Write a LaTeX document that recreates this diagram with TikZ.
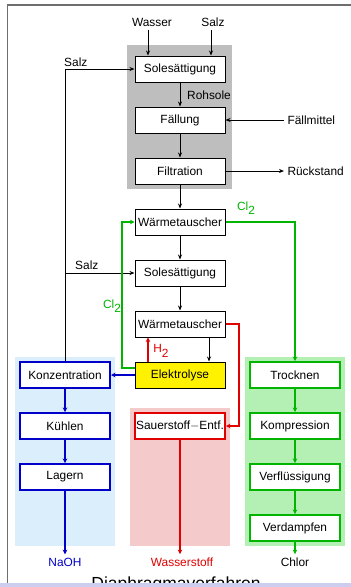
\documentclass[tikz,border=0pt]{standalone}
\usepackage{fontspec}
\setmainfont{Liberation Sans}
\usetikzlibrary{positioning,arrows.meta}

\definecolor{graybg}{RGB}{190,190,190}
\definecolor{bluebg}{RGB}{218,238,252}
\definecolor{redbg}{RGB}{245,202,202}
\definecolor{greenbg}{RGB}{180,240,180}
\definecolor{naohblue}{RGB}{0,0,200}
\definecolor{hred}{RGB}{225,0,0}
\definecolor{clgreen}{RGB}{0,180,0}
\definecolor{framegray}{RGB}{110,110,110}
\definecolor{barlav}{RGB}{205,205,240}

\begin{document}
\begin{tikzpicture}[x=1pt, y=-1pt, node distance=51pt, font=\fontsize{11.9}{13}\selectfont]
    \tikzset{
      process/.style = {rectangle, minimum width=90pt, minimum height=26pt, inner sep=0pt, text centered, draw=black, line width=1pt, fill=white},
      naohbox/.style = {process, draw=naohblue, line width=2pt},
      hbox/.style = {process, draw=hred, line width=2pt},
      clbox/.style = {process, draw=clgreen, line width=2pt},
      arrow/.style = {line width=1pt, -{Stealth[length=5pt,width=4pt]}},
      bluearrow/.style = {arrow, draw=naohblue, line width=2pt, -{Stealth[length=4.5pt,width=4.5pt]}},
      redarrow/.style = {arrow, draw=hred, line width=2pt, -{Stealth[length=4.5pt,width=4.5pt]}},
      greenarrow/.style = {arrow, draw=clgreen, line width=2pt, -{Stealth[length=4.5pt,width=4.5pt]}}
    }
    \useasboundingbox (0,0) rectangle (351,587);

    % frame of the slide
    \draw [framegray, line width=1.5pt] (7.5,584) -- (7.5,5) -- (351,5);
    \begin{scope}
      \clip (0,0) rectangle (351,583);
      \node (titel) [anchor=north, inner sep=0pt, font=\fontsize{17.5}{20}\selectfont] at (176,577) {Diaphragmaverfahren};
    \end{scope}
    \fill [barlav] (0,583) rectangle (351,587);

    % backgrounds
    \fill [graybg] (127,45) rectangle (232,189);
    \fill [bluebg] (15,357) rectangle (115,546);
    \fill [redbg] (130,408) rectangle (230,546);
    \fill [greenbg] (245,357) rectangle (345,546);

    \node (sole1) [process] at (180,69) {Solesättigung};
    \node (faellung) [process, below of=sole1] {Fällung};
    \node (filtration) [process, below of=faellung] {Filtration};
    \node (wt1) [process, below of=filtration] {Wärmetauscher};
    \node (sole2) [process, below of=wt1] {Solesättigung};
    \node (wt2) [process, below of=sole2] {Wärmetauscher};
    \node (elektro) [process, fill=yellow, below of=wt2] {Elektrolyse};
    \node (konz) [naohbox, left of=elektro, xshift=-64pt] {Konzentration};
    \node (kuehlen) [naohbox, below of=konz] {Kühlen};
    \node (lagern) [naohbox, below of=kuehlen] {Lagern};
    \node (sauer) [hbox, below of=elektro] {Sauerstoff$-$Entf.};
    \node (trocknen) [clbox, right of=elektro, xshift=64pt] {Trocknen};
    \node (kompr) [clbox, below of=trocknen] {Kompression};
    \node (verfl) [clbox, below of=kompr] {Verflüssigung};
    \node (verdampf) [clbox, below of=verfl] {Verdampfen};

    \node (wasser) at (152,22) {Wasser};
    \node (salz) at (213,22) {Salz};
    \node (salzlinks) [anchor=south west, inner sep=1pt] at (63,68) {Salz};
    \node (salzmitte) [anchor=south west, inner sep=1pt] at (74,271) {Salz};
    \node (rohsole) [anchor=west, inner sep=1pt] at (186,95) {Rohsole};
    \node (faellmittel) [anchor=west] at (284,120) {Fällmittel};
    \node (rueckstand) [anchor=west] at (284,171) {Rückstand};
    \node (cloben) [text=clgreen] at (246,208) {Cl\raisebox{-0.7ex}{2}};
    \node (cllinks) [text=clgreen] at (112,306) {Cl\raisebox{-0.7ex}{2}};
    \node (hzwei) [text=hred] at (161,351) {H\raisebox{-0.7ex}{2}};
    \node (naoh) [text=naohblue] at (65,562) {NaOH};
    \node (wasserstoff) [text=hred] at (182,562) {Wasserstoff};
    \node (chlor) at (295,562) {Chlor};

    \draw [arrow] ([xshift=-32pt]sole1.north |- wasser.south) -- ([xshift=-32pt]sole1.north);
    \draw [arrow] ([xshift=31pt]sole1.north |- salz.south) -- ([xshift=31pt]sole1.north);
    \draw [arrow] (konz.north) |- (sole1.west);
    \draw [arrow] (konz.north |- sole2.west) -- (sole2.west);
    \draw [arrow] (sole1) -- (faellung);
    \draw [arrow] (faellmittel.west) -- (faellung.east);
    \draw [arrow] (faellung) -- (filtration);
    \draw [arrow] (filtration.east) -- (rueckstand.west);
    \draw [arrow] (filtration) -- (wt1);
    \draw [arrow] (wt1) -- (sole2);
    \draw [arrow] (sole2) -- (wt2);
    \draw [arrow] ([xshift=29pt]wt2.south) -- ([xshift=29pt]elektro.north);
    \draw [redarrow] ([xshift=-32pt]elektro.north) -- ([xshift=-32pt]wt2.south);
    \draw [redarrow] (wt2.east) -- ++(13,0) |- (sauer.east);
    \draw [greenarrow] ([yshift=7pt]elektro.west) -- ++(-13,0) |- (wt1.west);
    \draw [greenarrow] (wt1.east) -| (trocknen.north);
    \draw [bluearrow] (elektro) -- (konz);
    \draw [bluearrow] (konz) -- (kuehlen);
    \draw [bluearrow] (kuehlen) -- (lagern);
    \draw [bluearrow] (lagern) -- (naoh);
    \draw [redarrow] (sauer) -- (wasserstoff.north -| sauer.south);
    \draw [greenarrow] (trocknen) -- (kompr);
    \draw [greenarrow] (kompr) -- (verfl);
    \draw [greenarrow] (verfl) -- (verdampf);
    \draw [greenarrow] (verdampf) -- (chlor);
\end{tikzpicture}
\end{document}
